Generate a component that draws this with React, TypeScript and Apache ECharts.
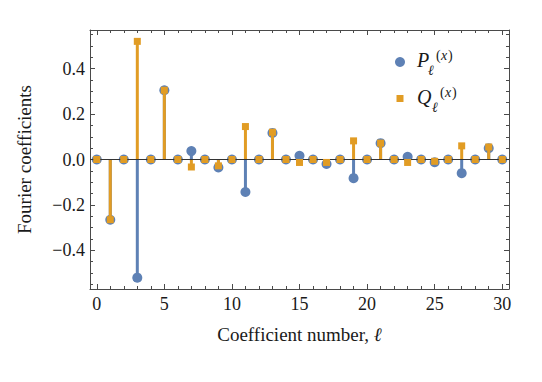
import React, { useEffect, useRef } from "react";
import * as echarts from "echarts";

const ells = [0,1,2,3,4,5,6,7,8,9,10,11,12,13,14,15,16,17,18,19,20,21,22,23,24,25,26,27,28,29,30];
const pValues = [0,-0.265,0,-0.52,0,0.305,0,0.037,0,-0.035,0,-0.143,0,0.117,0,0.016,0,-0.02,0,-0.082,0,0.072,0,0.012,0,-0.012,0,-0.06,0,0.05,0];
const qValues = [0,-0.265,0,0.52,0,0.305,0,-0.033,0,-0.028,0,0.145,0,0.12,0,-0.013,0,-0.013,0,0.082,0,0.072,0,-0.013,0,-0.008,0,0.06,0,0.055,0];
const xMajorTicks = [0,5,10,15,20,25,30];
const xMinorTicks = ells;
const yMajorTicks = [-0.4,-0.2,0,0.2,0.4];
const yMinorTicks = [-0.55,-0.5,-0.45,-0.35,-0.3,-0.25,-0.15,-0.1,-0.05,0.05,0.1,0.15,0.25,0.3,0.35,0.45,0.5,0.55];

const BLUE = "#5E81B5";
const ORANGE = "#E19C24";
const FRAME = "#4a4a4a";
const SERIF = "Liberation Serif";

export default function App() {
  const ref = useRef<HTMLDivElement>(null);
  useEffect(() => {
    if (!ref.current) return;
    const chart = echarts.init(ref.current, undefined, { renderer: "svg" });
    const xRange = { min: -0.5, max: 30.5 };
    const yRange = { min: -0.57, max: 0.57 };
    const fmtY = (v: number) => {
      const s = v.toFixed(1);
      return v < 0 ? "\u2212" + s.slice(1) : s;
    };
    const xAxisBase = (pos: string, ticks: number[], len: number, showLine: boolean, labels: boolean) => ({
      type: "value",
      position: pos,
      ...xRange,
      axisLine: { show: showLine, onZero: false, lineStyle: { color: FRAME, width: 1 } },
      axisTick: { show: true, inside: true, length: len, customValues: ticks, lineStyle: { color: FRAME, width: 1 } },
      axisLabel: labels
        ? { show: true, customValues: xMajorTicks, fontFamily: SERIF, fontSize: 18, color: "#1a1a1a", margin: 6 }
        : { show: false },
      splitLine: { show: false },
    });
    const yAxisBase = (pos: string, ticks: number[], len: number, showLine: boolean, labels: boolean) => ({
      type: "value",
      position: pos,
      ...yRange,
      axisLine: { show: showLine, onZero: false, lineStyle: { color: FRAME, width: 1 } },
      axisTick: { show: true, inside: true, length: len, customValues: ticks, lineStyle: { color: FRAME, width: 1 } },
      axisLabel: labels
        ? { show: true, customValues: yMajorTicks, formatter: fmtY, fontFamily: SERIF, fontSize: 18, color: "#1a1a1a", margin: 5 }
        : { show: false },
      splitLine: { show: false },
    });
    const pStem = ells.map((l, i) => [l, pValues[i]]);
    const qStem = ells.map((l, i) => [l, qValues[i]]);
    chart.setOption({
      animation: false,
      backgroundColor: "#ffffff",
      textStyle: { fontFamily: SERIF },
      grid: { left: 90, top: 30, width: 419, height: 259, containLabel: false },
      xAxis: [
        {
          ...xAxisBase("bottom", xMajorTicks, 5, true, true),
          name: "Coefficient number, {i|\u2113}",
          nameLocation: "middle",
          nameGap: 36,
          nameTextStyle: { fontFamily: SERIF, fontSize: 19, color: "#1a1a1a", rich: { i: { fontFamily: SERIF, fontSize: 19, fontStyle: "italic", color: "#1a1a1a" } } },
        },
        xAxisBase("bottom", xMinorTicks, 3, false, false),
        xAxisBase("top", xMajorTicks, 5, true, false),
        xAxisBase("top", xMinorTicks, 3, false, false),
      ],
      yAxis: [
        {
          ...yAxisBase("left", yMajorTicks, 5, true, true),
          name: "Fourier coefficients",
          nameLocation: "middle",
          nameGap: 56,
          nameTextStyle: { fontFamily: SERIF, fontSize: 19, color: "#1a1a1a" },
        },
        yAxisBase("left", yMinorTicks, 3, false, false),
        yAxisBase("right", yMajorTicks, 5, true, false),
        yAxisBase("right", yMinorTicks, 3, false, false),
      ],
      series: [
        {
          name: "P stem",
          type: "bar",
          data: pStem,
          barWidth: 3,
          barGap: "-100%",
          itemStyle: { color: BLUE },
          z: 2,
          markLine: {
            silent: true,
            symbol: ["none", "none"],
            label: { show: false },
            lineStyle: { color: "#333333", width: 1, type: "solid" },
            data: [{ yAxis: 0 }],
          },
        },
        {
          name: "P",
          type: "scatter",
          data: pStem,
          symbol: "circle",
          symbolSize: 10,
          itemStyle: { color: BLUE, opacity: 1 },
          z: 3,
        },
        {
          name: "Q stem",
          type: "bar",
          data: qStem,
          barWidth: 3,
          barGap: "-100%",
          itemStyle: { color: ORANGE },
          z: 4,
        },
        {
          name: "Q",
          type: "scatter",
          data: qStem,
          symbol: "rect",
          symbolSize: 7,
          itemStyle: { color: ORANGE, opacity: 1 },
          z: 5,
        },
      ],
      graphic: [
        { type: "circle", shape: { cx: 400, cy: 62, r: 5 }, style: { fill: BLUE } },
        { type: "rect", shape: { x: 396.5, y: 95, width: 7, height: 7 }, style: { fill: ORANGE } },
        { type: "text", x: 417, y: 60, style: { text: "P", fontFamily: SERIF, fontStyle: "italic", fontSize: 20, fill: "#1a1a1a", verticalAlign: "middle" } },
        { type: "text", x: 428, y: 70, style: { text: "\u2113", fontFamily: SERIF, fontStyle: "italic", fontSize: 14, fill: "#1a1a1a", verticalAlign: "middle" } },
        { type: "text", x: 436, y: 55, style: { text: "(", fontFamily: SERIF, fontSize: 14, fill: "#1a1a1a", verticalAlign: "middle" } },
        { type: "text", x: 441, y: 55, style: { text: "x", fontFamily: SERIF, fontStyle: "italic", fontSize: 14, fill: "#1a1a1a", verticalAlign: "middle" } },
        { type: "text", x: 448, y: 55, style: { text: ")", fontFamily: SERIF, fontSize: 14, fill: "#1a1a1a", verticalAlign: "middle" } },
        { type: "text", x: 417, y: 97, style: { text: "Q", fontFamily: SERIF, fontStyle: "italic", fontSize: 20, fill: "#1a1a1a", verticalAlign: "middle" } },
        { type: "text", x: 432, y: 107, style: { text: "\u2113", fontFamily: SERIF, fontStyle: "italic", fontSize: 14, fill: "#1a1a1a", verticalAlign: "middle" } },
        { type: "text", x: 440, y: 92, style: { text: "(", fontFamily: SERIF, fontSize: 14, fill: "#1a1a1a", verticalAlign: "middle" } },
        { type: "text", x: 445, y: 92, style: { text: "x", fontFamily: SERIF, fontStyle: "italic", fontSize: 14, fill: "#1a1a1a", verticalAlign: "middle" } },
        { type: "text", x: 452, y: 92, style: { text: ")", fontFamily: SERIF, fontSize: 14, fill: "#1a1a1a", verticalAlign: "middle" } },
      ],
    });
    return () => chart.dispose();
  }, []);
  return <div ref={ref} style={{ width: 542, height: 382, position: "absolute", left: 0, top: 0 }} />;
}
